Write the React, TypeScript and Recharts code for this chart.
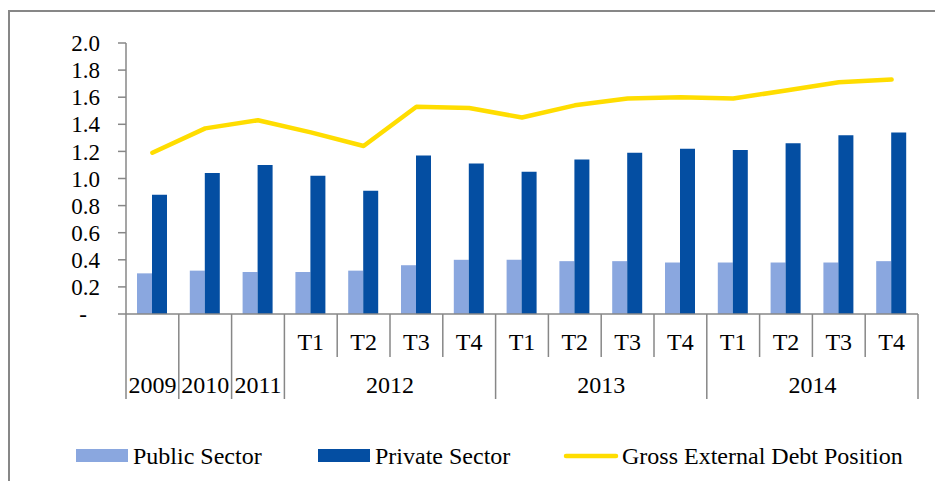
import React from 'react';
import { ComposedChart, Bar, Line, XAxis, YAxis } from 'recharts';

const periods = ['2009', '2010', '2011', '2012-T1', '2012-T2', '2012-T3', '2012-T4', '2013-T1', '2013-T2', '2013-T3', '2013-T4', '2014-T1', '2014-T2', '2014-T3', '2014-T4'];
const quarterLabels = ['', '', '', 'T1', 'T2', 'T3', 'T4', 'T1', 'T2', 'T3', 'T4', 'T1', 'T2', 'T3', 'T4'];
const yearGroups = [
  { label: '2009', start: 0, end: 0 },
  { label: '2010', start: 1, end: 1 },
  { label: '2011', start: 2, end: 2 },
  { label: '2012', start: 3, end: 6 },
  { label: '2013', start: 7, end: 10 },
  { label: '2014', start: 11, end: 14 },
];
const publicSector = [0.30, 0.32, 0.31, 0.31, 0.32, 0.36, 0.40, 0.40, 0.39, 0.39, 0.38, 0.38, 0.38, 0.38, 0.39];
const privateSector = [0.88, 1.04, 1.10, 1.02, 0.91, 1.17, 1.11, 1.05, 1.14, 1.19, 1.22, 1.21, 1.26, 1.32, 1.34];
const grossDebt = [1.19, 1.37, 1.43, 1.34, 1.24, 1.53, 1.52, 1.45, 1.54, 1.59, 1.60, 1.59, 1.65, 1.71, 1.73];
const yTicks = [0, 0.2, 0.4, 0.6, 0.8, 1.0, 1.2, 1.4, 1.6, 1.8, 2.0];

const data = periods.map((p, i) => ({
  period: p,
  publicSector: publicSector[i],
  privateSector: privateSector[i],
  grossDebt: grossDebt[i],
}));

const W = 935;
const H = 481;
const MARGIN = { top: 43, right: 17, bottom: 81, left: 0 };
const Y_AXIS_W = 126;
const X_AXIS_H = 86;
const PLOT_W = W - MARGIN.left - MARGIN.right - Y_AXIS_W;
const BW = PLOT_W / periods.length;

const FONT = 'Liberation Serif, Times New Roman, serif';
const TXT = { fontFamily: FONT };
const GRID = '#878787';
const PUBLIC_C = '#8AA7DF';
const PRIVATE_C = '#044EA2';
const LINE_C = '#FFDD00';

const YTick = (props: any) => {
  const { x, y, payload } = props;
  const v = payload.value;
  const txt = v === 0 ? '-' : v.toFixed(1);
  return (
    <text x={v === 0 ? x - 13 : x} y={y} dy="0.355em" textAnchor="end" style={TXT} fontSize={23} fill="#000">
      {txt}
    </text>
  );
};

const XTick = (props: any) => {
  const { x, y, index } = props;
  const left = x - BW / 2;
  const group = yearGroups.find((g) => g.start === index);
  const isLast = index === periods.length - 1;
  return (
    <g>
      <line x1={left} x2={left} y1={y} y2={y + (group ? 85 : 43)} stroke={GRID} strokeWidth={1.5} />
      {isLast && <line x1={x + BW / 2} x2={x + BW / 2} y1={y} y2={y + 85} stroke={GRID} strokeWidth={1.5} />}
      {quarterLabels[index] && (
        <text x={x} y={y + 36} textAnchor="middle" style={TXT} fontSize={24} fill="#000">
          {quarterLabels[index]}
        </text>
      )}
      {group && (
        <text x={left + ((group.end - group.start + 1) * BW) / 2} y={y + 79} textAnchor="middle" style={TXT} fontSize={24} fill="#000">
          {group.label}
        </text>
      )}
    </g>
  );
};

const LegendOverlay = () => (
  <svg width={W} height={H} style={{ position: 'absolute', left: 0, top: 0, pointerEvents: 'none' }}>
    <rect x={76} y={449} width={52} height={13} fill={PUBLIC_C} />
    <text x={133} y={464} style={TXT} fontSize={24} fill="#000">Public Sector</text>
    <rect x={318} y={449} width={52} height={13} fill={PRIVATE_C} />
    <text x={375} y={464} style={TXT} fontSize={24} fill="#000">Private Sector</text>
    <line x1={566} x2={616} y1={456} y2={456} stroke={LINE_C} strokeWidth={4.5} strokeLinecap="round" />
    <text x={622} y={464} style={TXT} fontSize={24} fill="#000">Gross External Debt Position</text>
  </svg>
);

export default function App() {
  return (
    <div style={{ position: 'absolute', left: 0, top: 0, width: W, height: H, background: '#fff', overflow: 'hidden', fontFamily: FONT }}>
      <div style={{ position: 'absolute', left: 8, top: 10, width: 940, height: 490, border: `2px solid ${GRID}`, boxSizing: 'border-box' }} />
      <div style={{ position: 'absolute', left: 0, top: 0 }}>
        <ComposedChart width={W} height={H} data={data} margin={MARGIN} barGap={0} barSize={15}>
          <XAxis
            dataKey="period"
            interval={0}
            height={X_AXIS_H}
            tick={<XTick />}
            tickLine={false}
            tickSize={0}
            tickMargin={0}
            axisLine={{ stroke: GRID, strokeWidth: 1.5 }}
          />
          <YAxis
            width={Y_AXIS_W}
            domain={[0, 2]}
            ticks={yTicks}
            interval={0}
            tick={<YTick />}
            tickSize={8}
            tickMargin={18}
            tickLine={{ stroke: GRID, strokeWidth: 1.5 }}
            axisLine={{ stroke: GRID, strokeWidth: 1.5 }}
          />
          <Bar dataKey="publicSector" name="Public Sector" fill={PUBLIC_C} isAnimationActive={false} />
          <Bar dataKey="privateSector" name="Private Sector" fill={PRIVATE_C} isAnimationActive={false} />
          <Line
            dataKey="grossDebt"
            name="Gross External Debt Position"
            type="linear"
            stroke={LINE_C}
            strokeWidth={4.5}
            strokeLinecap="round"
            strokeLinejoin="round"
            dot={false}
            activeDot={false}
            isAnimationActive={false}
          />
        </ComposedChart>
      </div>
      <LegendOverlay />
    </div>
  );
}
